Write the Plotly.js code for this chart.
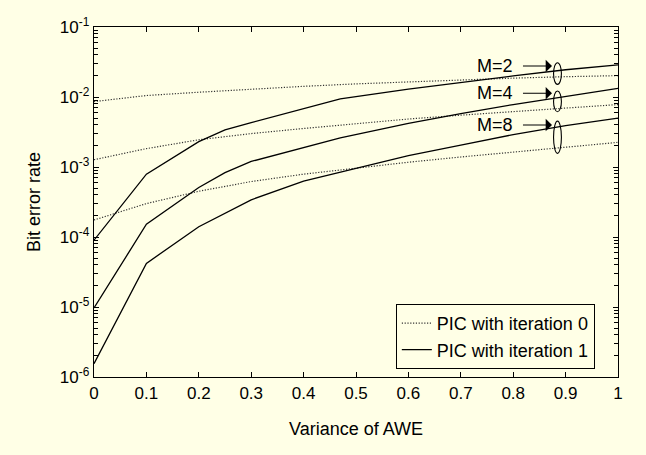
<!DOCTYPE html>
<html>
<head>
<meta charset="utf-8">
<script src="https://cdn.plot.ly/plotly-2.35.2.min.js"></script>
<style>html,body{margin:0;padding:0;background:#FFFFE6;}#chart{width:646px;height:455px;}</style>
</head>
<body>
<div id="chart"></div>
<script>
// Iteration 0 (dotted) curves
const xIter0 = [0, 0.1, 0.2, 0.3, 0.4, 0.5, 0.6, 0.7, 0.8, 0.9, 1.0];
const ber0_M2 = [8.6e-3, 1.05e-2, 1.17e-2, 1.3e-2, 1.42e-2, 1.54e-2, 1.65e-2, 1.76e-2, 1.86e-2, 1.95e-2, 2.02e-2];
const ber0_M4 = [1.27e-3, 1.83e-3, 2.45e-3, 3.0e-3, 3.55e-3, 4.15e-3, 4.85e-3, 5.5e-3, 6.2e-3, 7.0e-3, 7.8e-3];
const ber0_M8 = [1.75e-4, 3.0e-4, 4.5e-4, 6.2e-4, 7.9e-4, 9.7e-4, 1.17e-3, 1.39e-3, 1.63e-3, 1.92e-3, 2.25e-3];
// Iteration 1 (solid) curves
const xIter1 = [0, 0.1, 0.2, 0.25, 0.3, 0.4, 0.47, 0.6, 0.7, 0.8, 0.9, 1.0];
const ber1_M2 = [9e-5, 7.9e-4, 2.3e-3, 3.4e-3, 4.3e-3, 6.8e-3, 9.4e-3, 1.3e-2, 1.62e-2, 2.0e-2, 2.45e-2, 2.87e-2];
const ber1_M4 = [9.7e-6, 1.52e-4, 5.1e-4, 8.3e-4, 1.2e-3, 1.87e-3, 2.6e-3, 4.2e-3, 5.8e-3, 7.8e-3, 1.03e-2, 1.33e-2];
const ber1_M8 = [1.55e-6, 4.2e-5, 1.4e-4, 2.2e-4, 3.4e-4, 6.3e-4, 8.5e-4, 1.45e-3, 2.05e-3, 2.9e-3, 3.9e-3, 5.0e-3];
const legendNames = ['PIC with iteration 0', 'PIC with iteration 1'];
const mLabels = ['M=2', 'M=4', 'M=8'];
const yTickVals = [1e-6, 1e-5, 1e-4, 1e-3, 1e-2, 1e-1];
const yTickText = ['10<sup>-6</sup>', '10<sup>-5</sup>', '10<sup>-4</sup>', '10<sup>-3</sup>', '10<sup>-2</sup>', '10<sup>-1</sup>'];
const xTickVals = [0, 0.1, 0.2, 0.3, 0.4, 0.5, 0.6, 0.7, 0.8, 0.9, 1];
const xTickText = ['0', '0.1', '0.2', '0.3', '0.4', '0.5', '0.6', '0.7', '0.8', '0.9', '1'];

const FONT = 'Liberation Sans, Arial, sans-serif';
const dotted = {color: '#333', width: 1.2, dash: '1.2px,1.6px'};
const solid = {color: '#000', width: 1.3};

// minor log ticks (2..9 in each decade)
const minorVals = [];
for (let e = -6; e < -1; e++) for (let d = 2; d <= 9; d++) minorVals.push(d * Math.pow(10, e));

const traces = [];
[ber0_M2, ber0_M4, ber0_M8].forEach((y, i) => traces.push({
  x: xIter0, y: y, type: 'scatter', mode: 'lines', line: dotted,
  name: legendNames[0], legendgroup: 'g0', showlegend: i === 0
}));
[ber1_M2, ber1_M4, ber1_M8].forEach((y, i) => traces.push({
  x: xIter1, y: y, type: 'scatter', mode: 'lines', line: solid,
  name: legendNames[1], legendgroup: 'g1', showlegend: i === 0
}));

// annotation positions (x in data, y in log10 units), ellipses in paper y
const labelY = [-1.557, -1.947, -2.4];
const ellipseY = [[0.898, 0.836], [0.817, 0.758], [0.731, 0.639]];
const annotations = [];
const shapes = [];
mLabels.forEach((t, i) => {
  annotations.push({x: 0.804, y: labelY[i], xref: 'x', yref: 'y', text: t, showarrow: false,
    xanchor: 'right', yanchor: 'middle', font: {family: FONT, size: 18, color: '#000'}});
  annotations.push({x: 0.874, y: labelY[i], xref: 'x', yref: 'y', text: ' ', showarrow: true,
    ax: -31, ay: 0, arrowhead: 1, arrowsize: 1.9, arrowwidth: 1.1, arrowcolor: '#000', standoff: 0,
    font: {size: 2}});
  shapes.push({type: 'circle', xref: 'x', yref: 'paper', x0: 0.877, x1: 0.892,
    y0: ellipseY[i][1], y1: ellipseY[i][0], line: {color: '#000', width: 1.1}});
});

const axisCommon = {
  showline: true, linecolor: '#000', linewidth: 1.3, mirror: 'ticks',
  ticks: 'inside', ticklen: 5, tickwidth: 1, tickcolor: '#000',
  showgrid: false, zeroline: false,
  tickfont: {family: FONT, size: 17, color: '#000'}
};

const layout = {
  width: 646, height: 455,
  paper_bgcolor: '#FFFFE6', plot_bgcolor: '#FFFFE6',
  margin: {l: 94, r: 28, t: 27, b: 78},
  font: {family: FONT, size: 17, color: '#000'},
  xaxis: Object.assign({}, axisCommon, {
    range: [0, 1], tickvals: xTickVals, ticktext: xTickText,
    title: {text: 'Variance of AWE', font: {family: FONT, size: 18, color: '#000'}, standoff: 20}
  }),
  yaxis: Object.assign({}, axisCommon, {
    type: 'log', range: [-6, -1], tickvals: yTickVals, ticktext: yTickText,
    minor: {tickvals: minorVals, ticks: 'inside', ticklen: 4, tickwidth: 1, tickcolor: '#000', showgrid: false},
    title: {text: 'Bit error rate', font: {family: FONT, size: 18, color: '#000'}, standoff: 14}
  }),
  legend: {x: 0.576, y: 0.2086, xanchor: 'left', yanchor: 'top',
    bgcolor: '#FFFFE6', bordercolor: '#000', borderwidth: 1,
    font: {family: FONT, size: 18, color: '#000'}, tracegroupgap: 0},
  annotations: annotations,
  shapes: shapes,
  showlegend: true
};

Plotly.newPlot('chart', traces, layout, {displayModeBar: false, staticPlot: true});
</script>
</body>
</html>
